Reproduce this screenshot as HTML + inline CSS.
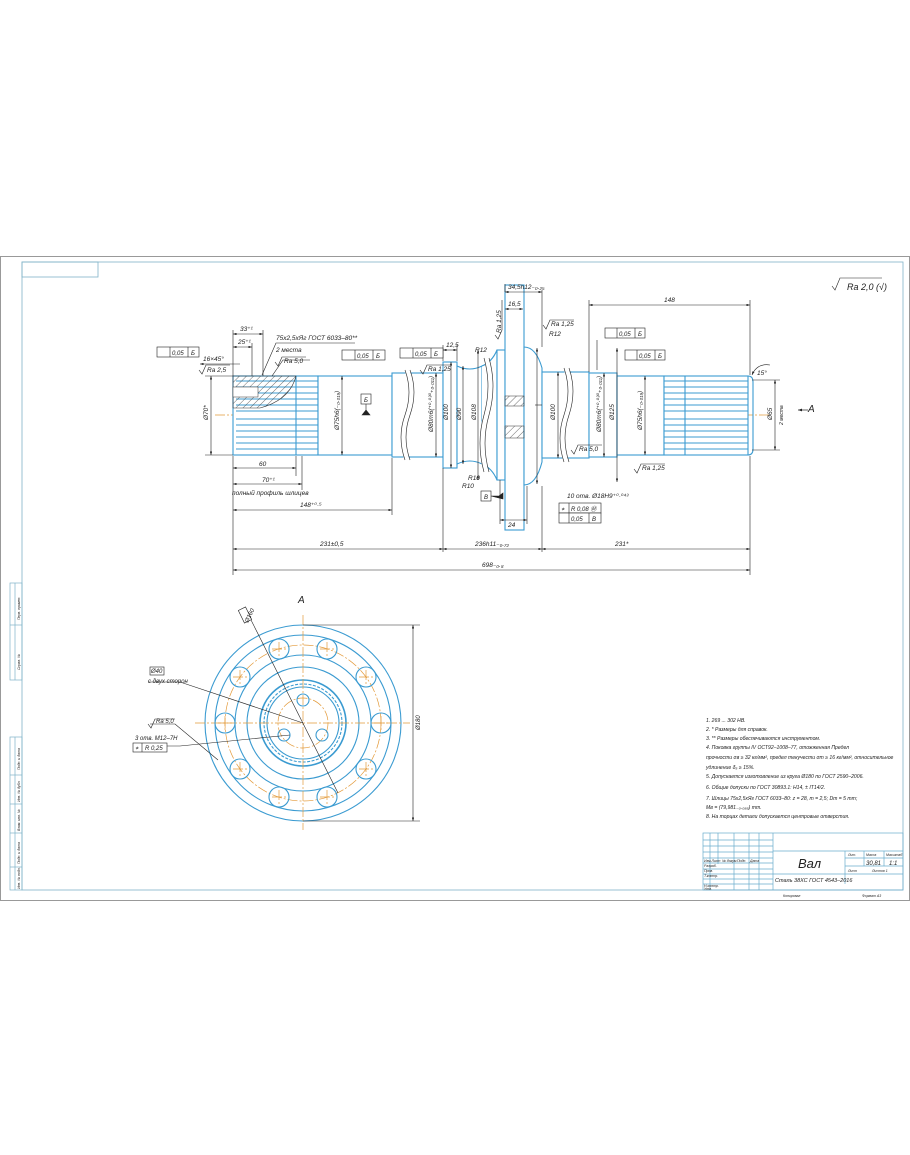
<!DOCTYPE html>
<html><head><meta charset="utf-8">
<style>
html,body{margin:0;padding:0;background:#fff;}
svg{display:block;}
text{font-family:"Liberation Sans","DejaVu Sans",sans-serif;font-style:italic;fill:#222;}
.b{stroke:#3b9bd1;fill:none;stroke-width:1.1}
.bf{stroke:#3b9bd1;fill:#fff;stroke-width:1.1}
.k{stroke:#222;fill:none;stroke-width:0.6}
.o{stroke:#e39a3a;fill:none;stroke-width:0.7;stroke-dasharray:10 2 2 2}
.h{stroke:#333;stroke-width:0.5}
</style></head>
<body>
<svg width="910" height="1155" viewBox="0 0 910 1155" xmlns="http://www.w3.org/2000/svg">
<defs>
<pattern id="hat" patternUnits="userSpaceOnUse" width="5" height="5" patternTransform="rotate(45)">
<line x1="0" y1="0" x2="0" y2="5" stroke="#333" stroke-width="0.7"/></pattern>
<marker id="ar" markerWidth="6" markerHeight="4" refX="6" refY="2" orient="auto-start-reverse"><path d="M0,0 L6,2 L0,4z" fill="#222"/></marker>
</defs>
<!-- sheet -->
<rect x="0.5" y="256.5" width="909" height="644" fill="#fff" stroke="#999" stroke-width="1"/>
<rect x="22" y="262" width="881" height="628" fill="none" stroke="#7fb3c8" stroke-width="0.8"/>
<rect x="22" y="262" width="76" height="15" fill="none" stroke="#7fb3c8" stroke-width="0.8"/>
<!-- left column -->
<g stroke="#7fb3c8" fill="none" stroke-width="0.7">
<rect x="10" y="583" width="12" height="97"/><line x1="10" y1="625" x2="22" y2="625"/><line x1="15" y1="583" x2="15" y2="680"/>
<rect x="10" y="737" width="12" height="153"/><line x1="15" y1="737" x2="15" y2="890"/>
<line x1="10" y1="775" x2="22" y2="775"/><line x1="10" y1="804" x2="22" y2="804"/><line x1="10" y1="833" x2="22" y2="833"/><line x1="10" y1="867" x2="22" y2="867"/>
</g>
<g font-size="3.5">
<text transform="translate(20,620) rotate(-90)">Перв. примен.</text>
<text transform="translate(20,670) rotate(-90)">Справ. №</text>
<text transform="translate(20,770) rotate(-90)">Подп. и дата</text>
<text transform="translate(20,802) rotate(-90)">Инв. № дубл.</text>
<text transform="translate(20,831) rotate(-90)">Взам. инв. №</text>
<text transform="translate(20,864) rotate(-90)">Подп. и дата</text>
<text transform="translate(20,889) rotate(-90)">Инв. № подл.</text>
</g>
<!-- Ra 20 top right -->
<path d="M832,286 l3,4 l5,-12 h42" class="k" stroke-width="0.8"/>
<text x="847" y="290" font-size="9">Ra 2,0 (√)</text>

<!-- centerline -->
<line x1="215" y1="415" x2="770" y2="415" class="o"/>

<!-- SHAFT -->
<rect x="233" y="376" width="85" height="79" class="bf"/>
<g class="b" stroke-width="0.6">
<line x1="236" y1="381" x2="318" y2="381"/><line x1="236" y1="387" x2="318" y2="387"/><line x1="236" y1="393" x2="318" y2="393"/><line x1="236" y1="399" x2="318" y2="399"/><line x1="236" y1="405" x2="318" y2="405"/><line x1="236" y1="411" x2="318" y2="411"/><line x1="236" y1="419" x2="318" y2="419"/><line x1="236" y1="425" x2="318" y2="425"/><line x1="236" y1="431" x2="318" y2="431"/><line x1="236" y1="437" x2="318" y2="437"/><line x1="236" y1="443" x2="318" y2="443"/><line x1="236" y1="449" x2="318" y2="449"/>
<line x1="296" y1="376" x2="296" y2="455"/>
</g>
<path d="M233,376 L296,376 Q290,400 260,408 L233,408 Z" fill="url(#hat)" stroke="#333" stroke-width="0.6"/>
<rect x="233" y="387" width="25" height="10" fill="#fff" stroke="#333" stroke-width="0.5"/>
<rect x="318" y="376" width="74" height="79" class="bf"/>
<rect x="392" y="373" width="51" height="84" class="bf"/>
<rect x="443" y="362" width="14" height="106" class="bf"/>
<path d="M457,366 Q470,372 482,366 L482,464 Q470,458 457,464 Z" class="bf"/>
<path d="M482,366 Q492,362 497,350 L497,480 Q492,468 482,464" class="bf"/>
<rect x="497" y="350" width="8" height="130" class="bf"/>
<rect x="505" y="285" width="19" height="245" class="bf"/>
<path d="M524,347 Q536,347 542,368 L542,462 Q536,485 524,485 Z" class="bf"/>
<rect x="542" y="372" width="47" height="86" class="bf"/>
<rect x="589" y="373" width="28" height="84" class="bf"/>
<rect x="617" y="376" width="47" height="79" class="bf"/>
<rect x="664" y="376" width="84" height="79" class="bf"/>
<path d="M748,376 Q753,376 753,382 L753,449 Q753,455 748,455" class="b"/>
<g class="b" stroke-width="0.6">
<line x1="664" y1="381" x2="748" y2="381"/><line x1="664" y1="387" x2="748" y2="387"/><line x1="664" y1="393" x2="748" y2="393"/><line x1="664" y1="399" x2="748" y2="399"/><line x1="664" y1="405" x2="748" y2="405"/><line x1="664" y1="411" x2="748" y2="411"/><line x1="664" y1="419" x2="748" y2="419"/><line x1="664" y1="425" x2="748" y2="425"/><line x1="664" y1="431" x2="748" y2="431"/><line x1="664" y1="437" x2="748" y2="437"/><line x1="664" y1="443" x2="748" y2="443"/><line x1="664" y1="449" x2="748" y2="449"/>
<line x1="685" y1="376" x2="685" y2="455"/>
</g>
<rect x="505" y="396" width="19" height="10" fill="url(#hat)" stroke="#333" stroke-width="0.5"/>
<rect x="505" y="426" width="19" height="12" fill="url(#hat)" stroke="#333" stroke-width="0.5"/>
<g stroke="#fff" stroke-width="5" fill="none">
<path d="M407,370 q8,22 0,45 q-8,22 0,45"/><path d="M486,358 q8,28 0,57 q-8,28 0,57"/><path d="M566,368 q8,23 0,47 q-8,23 0,47"/>
</g>
<g class="k" stroke-width="0.8">
<path d="M405,370 q8,22 0,45 q-8,22 0,45"/><path d="M410,370 q8,22 0,45 q-8,22 0,45"/>
<path d="M484,358 q8,28 0,57 q-8,28 0,57"/><path d="M489,358 q8,28 0,57 q-8,28 0,57"/>
<path d="M564,368 q8,23 0,47 q-8,23 0,47"/><path d="M569,368 q8,23 0,47 q-8,23 0,47"/>
</g>

<!-- dimensions -->
<g class="k">
<line x1="233" y1="456" x2="233" y2="575"/>
<line x1="392" y1="458" x2="392" y2="515"/>
<line x1="443" y1="468" x2="443" y2="552"/>
<line x1="542" y1="486" x2="542" y2="552"/>
<line x1="750" y1="456" x2="750" y2="575"/>
<line x1="750" y1="300" x2="750" y2="375"/>
<line x1="589" y1="300" x2="589" y2="372"/>
<line x1="296" y1="456" x2="296" y2="476"/>
<line x1="302" y1="456" x2="302" y2="490"/>
<line x1="233" y1="468" x2="296" y2="468" marker-start="url(#ar)" marker-end="url(#ar)"/>
<line x1="233" y1="484" x2="302" y2="484" marker-start="url(#ar)" marker-end="url(#ar)"/>
<line x1="233" y1="510" x2="392" y2="510" marker-start="url(#ar)" marker-end="url(#ar)"/>
<line x1="233" y1="549" x2="443" y2="549" marker-start="url(#ar)" marker-end="url(#ar)"/>
<line x1="443" y1="549" x2="542" y2="549" marker-start="url(#ar)" marker-end="url(#ar)"/>
<line x1="542" y1="549" x2="750" y2="549" marker-start="url(#ar)" marker-end="url(#ar)"/>
<line x1="233" y1="570" x2="750" y2="570" marker-start="url(#ar)" marker-end="url(#ar)"/>
<line x1="589" y1="305" x2="750" y2="305" marker-start="url(#ar)" marker-end="url(#ar)"/>
<line x1="505" y1="292" x2="542" y2="292" marker-start="url(#ar)" marker-end="url(#ar)"/>
<line x1="505" y1="284" x2="505" y2="292"/><line x1="542" y1="290" x2="542" y2="347"/>
<line x1="505" y1="309" x2="523" y2="309" marker-start="url(#ar)" marker-end="url(#ar)"/>
<line x1="500" y1="520" x2="527" y2="520" marker-start="url(#ar)" marker-end="url(#ar)"/>
<line x1="500" y1="480" x2="500" y2="524"/><line x1="527" y1="486" x2="527" y2="524"/>
<line x1="443" y1="350" x2="457" y2="350" marker-start="url(#ar)" marker-end="url(#ar)"/>
<line x1="443" y1="345" x2="443" y2="361"/><line x1="457" y1="345" x2="457" y2="361"/>
<line x1="211" y1="376" x2="211" y2="455" marker-start="url(#ar)" marker-end="url(#ar)"/>
<line x1="205" y1="376" x2="233" y2="376"/><line x1="205" y1="455" x2="233" y2="455"/>
<line x1="342" y1="376" x2="342" y2="455" marker-start="url(#ar)" marker-end="url(#ar)"/>
<line x1="436" y1="373" x2="436" y2="457" marker-start="url(#ar)" marker-end="url(#ar)"/>
<line x1="451" y1="362" x2="451" y2="468" marker-start="url(#ar)" marker-end="url(#ar)"/>
<line x1="463" y1="366" x2="463" y2="464" marker-start="url(#ar)" marker-end="url(#ar)"/>
<line x1="478" y1="350" x2="478" y2="480" marker-start="url(#ar)" marker-end="url(#ar)"/>
<line x1="537" y1="348" x2="537" y2="484" marker-start="url(#ar)" marker-end="url(#ar)"/>
<line x1="558" y1="372" x2="558" y2="458" marker-start="url(#ar)" marker-end="url(#ar)"/>
<line x1="604" y1="373" x2="604" y2="457" marker-start="url(#ar)" marker-end="url(#ar)"/>
<line x1="617" y1="348" x2="617" y2="482" marker-start="url(#ar)" marker-end="url(#ar)"/>
<line x1="645" y1="376" x2="645" y2="455" marker-start="url(#ar)" marker-end="url(#ar)"/>
<line x1="775" y1="380" x2="775" y2="450" marker-start="url(#ar)" marker-end="url(#ar)"/>
<line x1="752" y1="380" x2="780" y2="380"/><line x1="752" y1="450" x2="780" y2="450"/>
<line x1="535" y1="405" x2="542" y2="405"/>
<line x1="233" y1="334" x2="263" y2="334" marker-start="url(#ar)" marker-end="url(#ar)"/>
<line x1="233" y1="347" x2="252" y2="347" marker-start="url(#ar)" marker-end="url(#ar)"/>
<line x1="233" y1="330" x2="233" y2="376"/><line x1="263" y1="330" x2="263" y2="376"/><line x1="252" y1="343" x2="252" y2="376"/>
<line x1="200" y1="364" x2="240" y2="364" marker-start="url(#ar)"/>
<path d="M262,375 L276,343 H355"/><path d="M272,376 L283,360 H310"/>
<path d="M597,340 L597,370"/>
</g>
<g fill="#fff" stroke="#222" stroke-width="0.6">
<rect x="157" y="347" width="42" height="10"/><line x1="170" y1="347" x2="170" y2="357"/><line x1="188" y1="347" x2="188" y2="357"/>
<rect x="342" y="350" width="43" height="10"/><line x1="355" y1="350" x2="355" y2="360"/><line x1="373" y1="350" x2="373" y2="360"/>
<rect x="400" y="348" width="43" height="10"/><line x1="413" y1="348" x2="413" y2="358"/><line x1="431" y1="348" x2="431" y2="358"/>
<rect x="605" y="328" width="40" height="10"/><line x1="617" y1="328" x2="617" y2="338"/><line x1="635" y1="328" x2="635" y2="338"/>
<rect x="625" y="350" width="40" height="10"/><line x1="637" y1="350" x2="637" y2="360"/><line x1="655" y1="350" x2="655" y2="360"/>
<rect x="559" y="503" width="42" height="10"/><line x1="569" y1="503" x2="569" y2="513"/>
<rect x="559" y="513" width="42" height="10"/><line x1="569" y1="513" x2="569" y2="523"/><line x1="589" y1="513" x2="589" y2="523"/>
<rect x="361" y="394" width="10" height="10"/>
<rect x="481" y="491" width="10" height="10"/>
</g>
<g font-size="6">
<text x="172" y="355">0,05</text><text x="191" y="355">Б</text>
<text x="357" y="358">0,05</text><text x="376" y="358">Б</text>
<text x="415" y="356">0,05</text><text x="434" y="356">Б</text>
<text x="619" y="336">0,05</text><text x="638" y="336">Б</text>
<text x="639" y="358">0,05</text><text x="658" y="358">Б</text>
<text x="571" y="511">R 0,08 Ⓜ</text><text x="571" y="521">0,05</text><text x="592" y="521">В</text>
<text x="364" y="402">Б</text><text x="484" y="499">В</text>
<text x="561" y="511">⌖</text>
</g>
<path d="M366,404 v6 M362,415 l4,-5 l4,5z" stroke="#222" fill="#222" stroke-width="0.6"/>
<path d="M491,496 h8 l4,-3 v6z" stroke="#222" fill="#222" stroke-width="0.6"/>
<g class="k" stroke-width="0.6">
<path d="M199,370 l3,4 l4,-9 h24"/><path d="M275,362 l3,4 l4,-9 h24"/>
<path d="M420,370 l3,4 l4,-9 h24"/><path d="M543,325 l3,4 l4,-9 h24"/>
<path d="M634,469 l3,4 l4,-9 h24"/><path d="M571,450 l3,4 l4,-9 h24"/>
<path d="M495,335 l3,4 l4,-9 v-30"/>
</g>
<g font-size="6.5">
<text x="207" y="372">Ra 2,5</text><text x="284" y="363">Ra 5,0</text>
<text x="428" y="371">Ra 1,25</text><text x="551" y="326">Ra 1,25</text>
<text x="642" y="470">Ra 1,25</text><text x="579" y="451">Ra 5,0</text>
<text transform="translate(501,333) rotate(-90)">Ra 1,25</text>
<text x="203" y="361">16×45°</text><text x="240" y="331">33⁺¹</text><text x="238" y="344">25⁺¹</text>
<text x="276" y="340">75х2,5хЯг ГОСТ 6033–80**</text><text x="276" y="352">2 места</text>
<text x="259" y="466">60</text><text x="262" y="482">70⁺¹</text>
<text x="232" y="495">полный профиль шлицев</text>
<text x="300" y="507">148⁺⁰·⁵</text>
<text x="320" y="546">231±0,5</text><text x="475" y="546">236h11₋₀.₇₂</text><text x="615" y="546">231*</text>
<text x="482" y="567">698₋₀.₈</text>
<text x="664" y="302">148</text><text x="508" y="289">34,5h12₋₀.₂₅</text><text x="508" y="306">16,5</text>
<text x="508" y="527">24</text><text x="446" y="347">12,5</text>
<text x="475" y="352">R12</text><text x="549" y="336">R12</text><text x="462" y="488">R10</text><text x="468" y="480">R10</text>
<text x="567" y="498">10 отв. Ø18H9⁺⁰·⁰⁴³</text>
<text x="757" y="375">15°</text>
<text x="808" y="412" font-size="10" font-style="normal">A</text>
<text transform="translate(208,420) rotate(-90)">Ø70*</text>
<text transform="translate(339,430) rotate(-90)">Ø75h6(₋₀.₀₁₉)</text>
<text transform="translate(433,432) rotate(-90)">Ø80m6(⁺⁰·⁰³⁰₊₀.₀₁₁)</text>
<text transform="translate(448,420) rotate(-90)">Ø100</text>
<text transform="translate(461,420) rotate(-90)">Ø90</text>
<text transform="translate(476,420) rotate(-90)">Ø108</text>
<text transform="translate(555,420) rotate(-90)">Ø100</text>
<text transform="translate(601,432) rotate(-90)">Ø80m6(⁺⁰·⁰³⁰₊₀.₀₁₁)</text>
<text transform="translate(614,420) rotate(-90)">Ø125</text>
<text transform="translate(642,430) rotate(-90)">Ø75h6(₋₀.₀₁₉)</text>
<text transform="translate(772,420) rotate(-90)">Ø65</text>
<text transform="translate(783,425) rotate(-90)" font-size="5">2 места</text>
</g>
<path d="M798,410 h10" stroke="#222" marker-start="url(#ar)" stroke-width="0.7"/>
<path d="M752,375 q5,-12 18,-10" class="k" marker-start="url(#ar)"/>

<!-- VIEW A -->
<text x="298" y="603" font-size="10" font-style="normal">A</text>
<g class="b">
<circle cx="303" cy="723" r="98"/><circle cx="303" cy="723" r="88"/><circle cx="303" cy="723" r="68"/><circle cx="303" cy="723" r="56"/>
<circle cx="303" cy="723" r="43" stroke-width="1.6"/><circle cx="303" cy="723" r="39" stroke-dasharray="3 1.5"/><circle cx="303" cy="723" r="36"/>
</g>
<circle cx="303" cy="723" r="78" class="o"/>
<circle cx="303" cy="723" r="25" class="o"/>
<line x1="195" y1="723" x2="410" y2="723" class="o"/><line x1="303" y1="615" x2="303" y2="830" class="o"/>
<g class="b" stroke-width="1.4">
<circle cx="381" cy="723" r="10"/><circle cx="366" cy="677" r="10"/><circle cx="327" cy="649" r="10"/><circle cx="279" cy="649" r="10"/><circle cx="240" cy="677" r="10"/>
<circle cx="225" cy="723" r="10"/><circle cx="240" cy="769" r="10"/><circle cx="279" cy="797" r="10"/><circle cx="327" cy="797" r="10"/><circle cx="366" cy="769" r="10"/>
</g>
<g class="o" stroke-dasharray="none" stroke-width="0.5">
<path d="M381,716v14M374,723h14 M225,716v14M218,723h14 M327,642v14M320,649h14 M279,642v14M272,649h14 M327,790v14M320,797h14 M279,790v14M272,797h14 M366,670v14M359,677h14 M240,670v14M233,677h14 M366,762v14M359,769h14 M240,762v14M233,769h14"/>
</g>
<g class="b" stroke-width="1.2">
<circle cx="303" cy="700" r="6"/><circle cx="322" cy="735" r="6"/><circle cx="284" cy="735" r="6"/>
</g>
<g class="k">
<line x1="338" y1="793" x2="245" y2="608"/>
<line x1="303" y1="625" x2="420" y2="625"/><line x1="303" y1="821" x2="420" y2="821"/>
<line x1="413" y1="625" x2="413" y2="821" marker-start="url(#ar)" marker-end="url(#ar)"/>
<path d="M148,682 H180 L303,723"/>
<path d="M148,746 H180 L290,735"/>
<path d="M150,724 H175 L218,760"/>
</g>
<rect x="241" y="608" width="8" height="14" fill="#fff" stroke="#222" stroke-width="0.6" transform="rotate(-26 245 615)"/>
<g font-size="6">
<text transform="translate(248,623) rotate(-64)">Ø160</text>
<text transform="translate(420,730) rotate(-90)">Ø180</text>
<rect x="150" y="667" width="14" height="8" fill="#fff" stroke="#222" stroke-width="0.6"/>
<text x="151" y="673">Ø40</text><text x="148" y="683">с двух сторон</text>
<path d="M148,724 l3,4 l4,-9 h20" class="k"/><text x="156" y="723">Ra 5,0</text>
<text x="135" y="740">3 отв. М12–7Н</text>
<rect x="133" y="743" width="34" height="9" fill="#fff" stroke="#222" stroke-width="0.6"/><line x1="142" y1="743" x2="142" y2="752" class="k"/>
<text x="135" y="750">⌖</text><text x="145" y="750">R 0,25</text>
</g>

<!-- NOTES -->
<g font-size="5.1">
<text x="706" y="722">1. 269 ... 302 НВ.</text>
<text x="706" y="731">2. * Размеры для справок.</text>
<text x="706" y="740">3. ** Размеры обеспечиваются инструментом.</text>
<text x="706" y="749">4. Поковка  группы  IV  ОСТ92–1008–77,  отожженная      Предел</text>
<text x="706" y="759">прочности σв ≥ 32 кг/мм², предел текучести σт ≥ 16 кг/мм², относительное</text>
<text x="706" y="769">удлинение δ₅ ≥ 15%.</text>
<text x="706" y="778">5. Допускается изготовление из круга Ø180 по ГОСТ 2590–2006.</text>
<text x="706" y="789">6. Общие допуски по ГОСТ 30893.1: Н14, ± IT14/2.</text>
<text x="706" y="800">7. Шлицы 75х2,5хЯг ГОСТ 6033–80: z = 28, m = 2,5; Dm = 5 mm;</text>
<text x="706" y="809">Мв = (79,981₋₀.₀₈₈) mm.</text>
<text x="706" y="818">8. На торцах детали допускается центровые отверстия.</text>
</g>
<!-- TITLE BLOCK -->
<g stroke="#6aaccc" fill="none" stroke-width="0.7">
<rect x="703" y="833" width="200" height="57"/>
<line x1="703" y1="840" x2="773" y2="840"/><line x1="703" y1="846" x2="773" y2="846"/><line x1="703" y1="852" x2="773" y2="852"/>
<line x1="703" y1="858" x2="773" y2="858"/><line x1="703" y1="863" x2="773" y2="863"/><line x1="703" y1="869" x2="773" y2="869"/>
<line x1="703" y1="874" x2="773" y2="874"/><line x1="703" y1="879" x2="773" y2="879"/><line x1="703" y1="884" x2="773" y2="884"/>
<line x1="710" y1="833" x2="710" y2="890"/><line x1="718" y1="833" x2="718" y2="864"/><line x1="734" y1="833" x2="734" y2="890"/>
<line x1="749" y1="833" x2="749" y2="890"/><line x1="759" y1="833" x2="759" y2="890"/><line x1="773" y1="833" x2="773" y2="890"/>
<line x1="773" y1="874" x2="903" y2="874"/><line x1="845" y1="851" x2="845" y2="884"/>
<line x1="845" y1="858" x2="903" y2="858"/><line x1="845" y1="866" x2="903" y2="866"/>
<line x1="864" y1="851" x2="864" y2="866"/><line x1="884" y1="851" x2="884" y2="866"/>
<line x1="773" y1="851" x2="903" y2="851"/>
</g>
<text x="798" y="868" font-size="13">Вал</text>
<text x="866" y="865" font-size="6">30,81</text><text x="889" y="865" font-size="6">1:1</text>
<text x="775" y="882" font-size="5.5">Сталь 38ХС ГОСТ 4543–2016</text>
<g font-size="3.5">
<text x="704" y="862">Изм.Лист</text><text x="722" y="862">№ докум.</text><text x="737" y="862">Подп.</text><text x="750" y="862">Дата</text>
<text x="704" y="867">Разраб.</text><text x="704" y="872">Пров.</text><text x="704" y="877">Т.контр.</text><text x="704" y="887">Н.контр.</text><text x="704" y="890">Утв.</text>
<text x="848" y="856">Лит.</text><text x="866" y="856">Масса</text><text x="886" y="856">Масштаб</text>
<text x="848" y="872">Лист</text><text x="872" y="872">Листов 1</text>
<text x="783" y="897">Копировал</text><text x="862" y="897">Формат  А3</text>
</g>
</svg>
</body></html>
